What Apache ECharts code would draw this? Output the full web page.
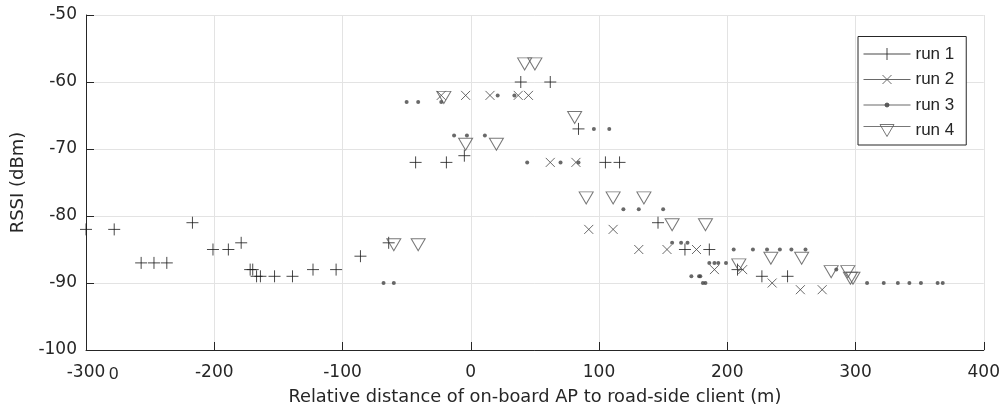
<!DOCTYPE html>
<html>
<head>
<meta charset="utf-8">
<script src="https://cdn.jsdelivr.net/npm/echarts@6/dist/echarts.min.js"></script>
<style>
  html, body { margin: 0; padding: 0; background: #ffffff; }
  #chart { width: 1003px; height: 411px; }
</style>
</head>
<body>
<div id="chart"></div>
<script>
// Axis ranges (m and dBm)
const xRange = [-300, 400];
const xStep = 100;
const yRange = [-100, -50];
const yStep = 10;

// RSSI samples per run: [relative distance (m), RSSI (dBm)]
const run1 = [
  [-300, -82], [-278, -82], [-257, -87], [-247, -87], [-237, -87], [-217, -81],
  [-201, -85], [-189, -85], [-179, -84], [-172, -88], [-170, -88], [-167, -89],
  [-164, -89], [-153, -89], [-139, -89], [-123, -88], [-105, -88], [-86, -86],
  [-64, -84], [-43, -72], [-19, -72], [-5, -71], [39, -60], [62, -60],
  [84, -67], [105, -72], [116, -72], [146, -81], [167, -85], [186, -85],
  [208, -88], [227, -89], [247, -89]
];
const run2 = [
  [-23, -62], [-4, -62], [15, -62], [37, -62], [45, -62], [62, -72],
  [82, -72], [92, -82], [111, -82], [131, -85], [153, -85], [176, -85],
  [190, -88], [212, -88], [235, -90], [257, -91], [274, -91]
];
const run3 = [
  [-68, -90], [-60, -90], [-50, -63], [-41, -63], [-23, -63], [-13, -68],
  [-3, -68], [11, -68], [21, -62], [34, -62], [44, -72], [70, -72],
  [84, -72], [96, -67], [108, -67], [119, -79], [131, -79], [150, -79],
  [157, -84], [164, -84], [169, -84], [172, -89], [178, -89], [179, -89],
  [181, -90], [183, -90], [186, -87], [190, -87], [193, -87], [199, -87],
  [205, -85], [220, -85], [231, -85], [241, -85], [250, -85], [261, -85],
  [285, -88], [309, -90], [322, -90], [333, -90], [342, -90], [351, -90],
  [364, -90], [368, -90]
];
const run4 = [
  [-60, -84], [-41, -84], [-21, -62], [-4, -69], [20, -69], [42, -57],
  [50, -57], [81, -65], [90, -77], [111, -77], [135, -77], [157, -81],
  [183, -81], [209, -87], [234, -86], [258, -86], [281, -88], [294, -88],
  [296, -89], [298, -89]
];
const runNames = ['run 1', 'run 2', 'run 3', 'run 4'];

const AXIS_FONT = '"DejaVu Sans", Verdana, sans-serif';
const LEGEND_FONT = '"Liberation Sans", Arial, Helvetica, sans-serif';
const INK = '#262626';

// marker outlines
const PLUS = 'path://M0,6 L12,6 M6,0 L6,12';
const CROSS = 'path://M0,0 L10,10 M10,0 L0,10';
const TRI_DOWN = 'path://M0,0 L14,0 L7,12 Z';

// legend glyphs: a short line with the marker centred on it
const LEG_PLUS = 'path://M0,6 L47,6 M23.5,0 L23.5,12';
const LEG_CROSS = 'path://M0,0 L0,0 M47,12 L47,12 M0,6 L47,6 M19,1.5 L28,10.5 M28,1.5 L19,10.5';
const LEG_DOT = 'path://M0,0 L0,0 M47,12 L47,12 M0,6 L47,6 M25.5,6 A2,2 0 1 1 21.5,6 A2,2 0 1 1 25.5,6 Z';
const LEG_TRI = 'path://M0,2 L47,2 M16.5,0 L30.5,0 L23.5,12 Z';

const chart = echarts.init(document.getElementById('chart'), null, { renderer: 'canvas' });

chart.setOption({
  animation: false,
  backgroundColor: '#ffffff',
  grid: { left: 86, right: 18, top: 15, bottom: 61, containLabel: false },
  legend: {
    orient: 'vertical',
    left: 858,
    top: 36.5,
    padding: [9, 12, 6, 5],
    itemGap: 8.5,
    itemWidth: 47,
    itemHeight: 12,
    backgroundColor: '#ffffff',
    borderColor: INK,
    borderWidth: 1,
    borderRadius: 0,
    selectedMode: false,
    textStyle: { fontFamily: LEGEND_FONT, fontSize: 17, color: INK, lineHeight: 17 },
    data: [
      { name: runNames[0], icon: LEG_PLUS, itemStyle: { color: 'transparent', borderColor: '#1a1a1a', borderWidth: 1 } },
      { name: runNames[1], icon: LEG_CROSS, itemStyle: { color: 'transparent', borderColor: '#444444', borderWidth: 1 } },
      { name: runNames[2], icon: LEG_DOT, itemStyle: { color: '#444444', borderColor: '#444444', borderWidth: 1 } },
      { name: runNames[3], icon: LEG_TRI, itemStyle: { color: 'transparent', borderColor: '#555555', borderWidth: 1 } }
    ]
  },
  xAxis: {
    type: 'value',
    min: xRange[0],
    max: xRange[1],
    interval: xStep,
    name: 'Relative distance of on-board AP to road-side client (m)',
    nameLocation: 'middle',
    nameGap: 38,
    nameTextStyle: { fontFamily: AXIS_FONT, fontSize: 17.8, color: INK },
    axisLine: { show: true, onZero: false, lineStyle: { color: INK, width: 1 } },
    axisTick: { show: true, inside: true, length: 8, lineStyle: { color: INK } },
    axisLabel: { fontFamily: AXIS_FONT, fontSize: 17, color: INK, margin: 14 },
    splitLine: { show: true, lineStyle: { color: '#e3e3e3', width: 1 } }
  },
  yAxis: {
    type: 'value',
    min: yRange[0],
    max: yRange[1],
    interval: yStep,
    name: 'RSSI (dBm)',
    nameLocation: 'middle',
    nameGap: 56,
    nameTextStyle: { fontFamily: AXIS_FONT, fontSize: 18, color: INK },
    axisLine: { show: true, onZero: false, lineStyle: { color: INK, width: 1 } },
    axisTick: { show: true, inside: true, length: 8, lineStyle: { color: INK } },
    axisLabel: { fontFamily: AXIS_FONT, fontSize: 17, color: INK, margin: 9 },
    splitLine: { show: true, lineStyle: { color: '#e3e3e3', width: 1 } }
  },
  graphic: [
    {
      type: 'text',
      left: 109,
      top: 366,
      style: { text: '0', fontFamily: LEGEND_FONT, fontSize: 17, fill: INK }
    }
  ],
  series: [
    {
      name: runNames[0], type: 'scatter', data: run1,
      symbol: PLUS, symbolSize: 12,
      itemStyle: { color: 'transparent', borderColor: '#1a1a1a', borderWidth: 1 }
    },
    {
      name: runNames[1], type: 'scatter', data: run2,
      symbol: CROSS, symbolSize: 9,
      itemStyle: { color: 'transparent', borderColor: '#444444', borderWidth: 1 }
    },
    {
      name: runNames[2], type: 'scatter', data: run3,
      symbol: 'circle', symbolSize: 4,
      itemStyle: { color: '#444444', borderWidth: 0 }
    },
    {
      name: runNames[3], type: 'scatter', data: run4,
      symbol: TRI_DOWN, symbolSize: [14, 12], symbolOffset: [0, 2],
      itemStyle: { color: 'transparent', borderColor: '#555555', borderWidth: 1 }
    }
  ]
});
</script>
</body>
</html>
